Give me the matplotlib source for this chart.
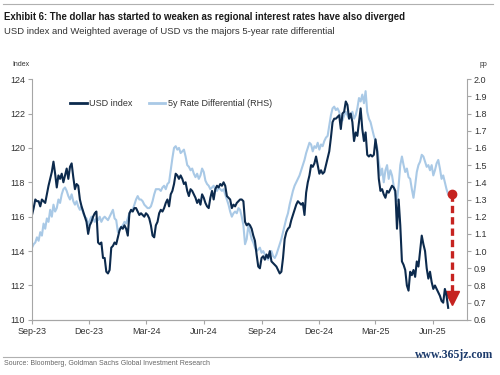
import matplotlib
matplotlib.use("Agg")
import matplotlib.pyplot as plt
import matplotlib.dates as mdates
from matplotlib import font_manager
from matplotlib.lines import Line2D
import pandas as pd

# USD index (LHS), Sep-23 .. late Jun-25
usd_index = [
    116.1, 116.5, 117.0, 116.9, 116.9, 116.6, 117.0, 116.9, 116.8, 117.3,
    117.8, 118.2, 118.6, 119.2, 118.5, 117.7, 118.4, 118.2, 118.5, 118.0,
    118.4, 118.8, 118.2, 118.9, 119.1, 118.3, 117.6, 117.9, 117.8, 117.0,
    116.6, 116.3, 116.0, 115.7, 115.0, 115.5, 115.7, 116.0, 116.2, 116.3,
    114.5, 114.4, 114.5, 113.6, 113.6, 112.8, 112.7, 112.9, 114.2, 114.3,
    114.5, 114.4, 114.8, 115.2, 115.4, 115.3, 115.5, 115.3, 114.9, 116.2,
    116.4, 116.3, 116.5, 116.5, 116.3, 116.1,
    116.2, 116.1, 116.0, 116.2, 116.1, 115.9, 115.5, 114.9, 114.8, 115.5,
    115.7, 116.2, 116.4, 116.3, 116.5, 116.8, 117.0, 116.6, 117.3, 117.5,
    117.9, 118.5, 118.4, 118.2, 118.4, 118.2, 117.9, 118.0, 117.5, 117.2,
    117.6, 117.5, 117.3, 117.1, 116.8, 117.0, 116.7, 117.3, 117.1, 116.8,
    116.6, 116.5, 117.1, 117.5, 117.0, 117.6, 117.8, 117.7, 117.9, 117.8,
    118.0, 117.8, 117.2, 117.1, 117.0, 116.5, 116.7, 116.6, 116.8, 116.9,
    117.0,
    117.0, 116.9, 115.7, 115.5, 115.6, 115.5, 115.3, 114.9, 114.6, 113.8,
    113.1, 113.0, 113.6, 113.7, 113.5, 113.8, 113.6, 114.0, 113.4, 113.3,
    113.2, 113.1, 112.9, 112.7, 112.8, 113.6, 114.7, 115.1, 115.3, 115.4,
    115.8, 116.1, 116.4, 116.7, 116.9, 116.8, 116.7, 116.8, 116.1, 117.4,
    118.0, 118.4, 119.0, 118.9, 119.1, 119.5, 119.0, 118.5, 118.7, 118.5,
    118.6, 119.0, 119.4, 119.8, 120.6, 121.5, 121.7, 121.7, 121.8, 121.9,
    121.1, 122.0, 122.1,
    122.7, 122.5, 121.7, 122.0, 121.5, 120.4, 120.9, 120.7, 121.5, 122.3,
    121.1, 120.4, 120.9, 119.6, 119.5, 119.6, 119.5, 119.6, 120.5, 119.8,
    118.2, 117.5, 117.6, 117.3, 117.1, 117.5, 117.4, 117.6, 117.8, 117.7,
    117.5, 115.3, 117.0, 115.5, 113.4, 113.2, 112.9, 112.0, 111.7, 112.8,
    112.6, 112.9, 112.5, 113.4, 113.1, 114.0, 114.9, 114.4, 114.0, 113.0,
    112.4, 112.8, 112.2, 111.8, 112.0, 111.8, 111.6, 111.4, 111.1, 111.0,
    111.8, 111.4, 110.7,
]

# 5y rate differential (RHS, pp)
rate_diff = [
    1.02, 1.04, 1.05, 1.08, 1.06, 1.11, 1.09, 1.16, 1.13, 1.19,
    1.17, 1.24, 1.20, 1.27, 1.23, 1.25, 1.30, 1.28, 1.33, 1.36,
    1.37, 1.35, 1.32, 1.30, 1.33, 1.29, 1.27, 1.29, 1.26, 1.24,
    1.26, 1.22, 1.20, 1.19, 1.15, 1.18, 1.20, 1.19, 1.17, 1.19,
    1.18, 1.20, 1.17, 1.19, 1.20, 1.19, 1.18, 1.20, 1.22, 1.24,
    1.19, 1.18, 1.11, 1.13, 1.14, 1.15, 1.17, 1.16, 1.19, 1.22,
    1.23, 1.24, 1.27, 1.30, 1.32, 1.30,
    1.30, 1.29, 1.27, 1.26, 1.25, 1.25, 1.26, 1.29, 1.33, 1.36,
    1.36, 1.36, 1.35, 1.37, 1.38, 1.36, 1.39, 1.40, 1.47, 1.54,
    1.60, 1.61, 1.59, 1.60, 1.57, 1.58, 1.59, 1.55, 1.50, 1.49,
    1.47, 1.48, 1.45, 1.43, 1.45, 1.42, 1.44, 1.48, 1.46, 1.41,
    1.39, 1.38, 1.36, 1.37, 1.38, 1.36, 1.35, 1.37, 1.36, 1.35,
    1.36, 1.33, 1.30, 1.27, 1.23, 1.20, 1.22, 1.23, 1.22, 1.25,
    1.24,
    1.20, 1.15, 1.04, 1.07, 1.15, 1.11, 1.07, 1.05, 1.02, 1.00,
    1.01, 1.02, 0.99, 1.00, 0.98, 0.96, 0.95, 0.98, 1.00, 0.97,
    0.96, 0.98, 1.01, 1.04, 1.07, 1.11, 1.15, 1.19, 1.22, 1.27,
    1.31, 1.35, 1.38, 1.40, 1.42, 1.44, 1.47, 1.50, 1.53, 1.57,
    1.60, 1.63, 1.62, 1.58, 1.61, 1.60, 1.63, 1.59, 1.62, 1.61,
    1.64, 1.66, 1.67, 1.73, 1.79, 1.83, 1.84, 1.82, 1.83, 1.81,
    1.77, 1.76, 1.79,
    1.81, 1.79, 1.77, 1.79, 1.81, 1.77, 1.79, 1.83, 1.89, 1.87,
    1.91, 1.86, 1.93, 1.81, 1.77, 1.75, 1.71, 1.67, 1.64, 1.60,
    1.52, 1.44, 1.48, 1.40, 1.47, 1.50, 1.42, 1.47, 1.44, 1.38,
    1.33, 1.29, 1.38, 1.50, 1.55, 1.50, 1.46, 1.48, 1.43, 1.42,
    1.36, 1.31, 1.38, 1.46, 1.50, 1.52, 1.56, 1.55, 1.52, 1.49,
    1.50, 1.47, 1.50, 1.44, 1.47, 1.51, 1.53, 1.48, 1.42, 1.44,
    1.40, 1.36, 1.33,
]

first_day = "2023-09-01"
last_day = "2025-06-25"
dates_usd = pd.date_range(first_day, last_day, periods=len(usd_index))
dates_rate = pd.date_range(first_day, last_day, periods=len(rate_diff))

tick_dates = pd.date_range("2023-09-01", "2025-06-01", freq="3MS")
arrow_date = pd.Timestamp("2025-07-01")
arrow_from, arrow_to = 1.33, 0.69

DARK = "#0c2a4d"
LIGHT = "#a9c9e6"
RED = "#c62320"
GREY = "#a6a6a6"
TXT = "#333333"

names = {f.name for f in font_manager.fontManager.ttflist}
base = "Liberation Sans" if "Liberation Sans" in names else "DejaVu Sans"
narrow = "Liberation Sans Narrow" if "Liberation Sans Narrow" in names else base
plt.rcParams['font.family'] = [base, 'DejaVu Sans']

fig = plt.figure(figsize=(5, 3.75), dpi=100)
ax = fig.add_axes([0.064, 0.147, 0.870, 0.642])
ax2 = ax.twinx()
ax.set_zorder(ax2.get_zorder() + 1)
ax.patch.set_visible(False)

ax.plot(dates_usd, usd_index, color=DARK, lw=1.5, solid_joinstyle='round')
ax2.plot(dates_rate, rate_diff, color=LIGHT, lw=1.5, solid_joinstyle='round')

# red dashed arrow
ax2.plot([arrow_date, arrow_date], [arrow_from, arrow_to + 0.07], color=RED,
         lw=2.4, ls=(0, (2.2, 1.2)))
ax2.plot([arrow_date], [arrow_from], marker='o', ms=6, color=RED)
ax2.plot([arrow_date], [arrow_to + 0.035], marker='v', ms=10, color=RED)

ax.set_xlim(pd.Timestamp("2023-09-01"), pd.Timestamp("2025-07-25"))
ax.set_ylim(110, 124)
ax.set_yticks(range(110, 125, 2))
ax2.set_ylim(0.6, 2.0)
ax2.set_yticks([x / 10 for x in range(6, 21)])
ax2.yaxis.set_major_formatter(matplotlib.ticker.FormatStrFormatter('%.1f'))
ax.set_xticks(tick_dates)
ax.xaxis.set_major_formatter(mdates.DateFormatter('%b-%y'))

for a in (ax, ax2):
    for s in a.spines.values():
        s.set_color(GREY)
        s.set_linewidth(0.8)
    a.spines['top'].set_visible(False)
    a.tick_params(colors=GREY, labelcolor=TXT, labelsize=6.5, length=3, width=0.8, pad=2)
ax.spines['right'].set_visible(False)
ax2.spines['left'].set_visible(False)

leg_handles = [Line2D([], [], color=DARK, lw=2),
               Line2D([], [], color=LIGHT, lw=2)]
ax.legend(leg_handles, ["USD index", "5y Rate Differential (RHS)"], ncol=2,
          loc='center left', bbox_to_anchor=(0.088, 0.90), frameon=False,
          fontsize=6.5, handlelength=1.8, handletextpad=0.3, columnspacing=1.8,
          borderpad=0, borderaxespad=0, labelcolor=TXT)

fig.text(0.024, 0.827, "Index", fontsize=5, color=TXT, va='center')
fig.text(0.960, 0.827, "pp", fontsize=5, color=TXT, va='center')

fig.add_artist(Line2D([0.006, 0.986], [0.989, 0.989], color="#b0b0b0", lw=0.8))
fig.text(0.008, 0.955, "Exhibit 6: The dollar has started to weaken as regional interest rates have also diverged",
         family=[narrow, 'DejaVu Sans'], fontweight='bold', fontsize=6.9, color="#1a1a1a", va='center')
fig.text(0.008, 0.917, "USD index and Weighted average of USD vs the majors 5-year rate differential",
         family=[narrow, 'DejaVu Sans'], fontsize=6.8, color="#333333", va='center')

fig.add_artist(Line2D([0.006, 0.85], [0.048, 0.048], color="#b0b0b0", lw=0.8))
fig.text(0.008, 0.031, "Source: Bloomberg, Goldman Sachs Global Investment Research",
         family=[narrow, 'DejaVu Sans'], fontsize=5, color="#666666", va='center')
fig.text(0.986, 0.053, "www.365jz.com", family=['Liberation Serif', 'DejaVu Serif'],
         fontsize=8.5, fontweight='bold', color="#1b3a6b", ha='right', va='center')

fig.savefig("out.png", dpi=100)
plt.close(fig)
